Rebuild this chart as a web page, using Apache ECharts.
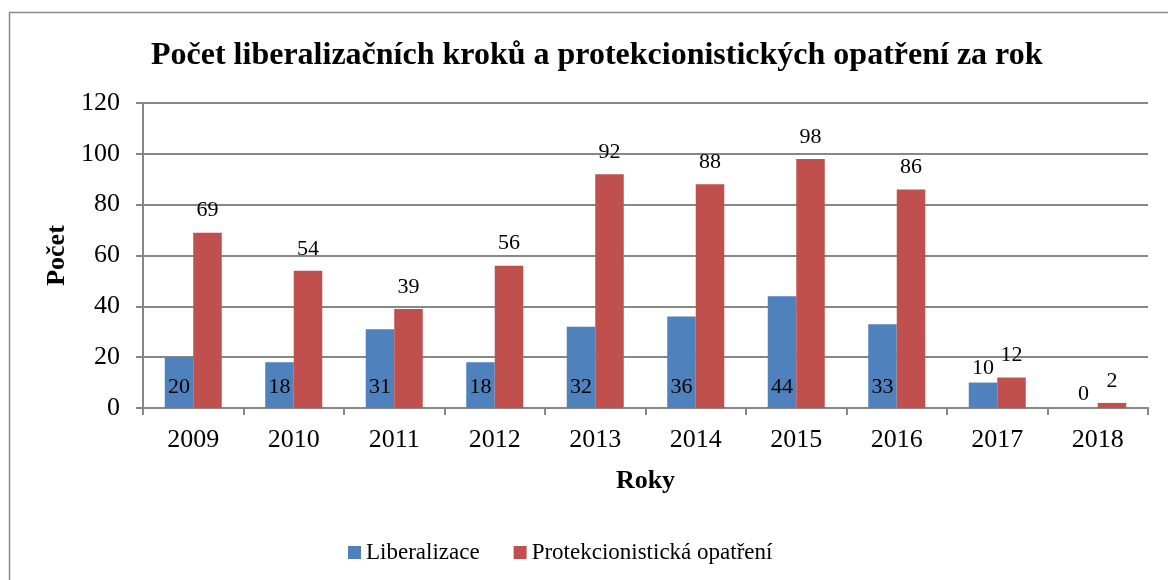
<!DOCTYPE html>
<html>
<head>
<meta charset="utf-8">
<title>Počet liberalizačních kroků</title>
<script src="https://cdn.jsdelivr.net/npm/echarts@6/dist/echarts.min.js"></script>
</head>
<body style="margin:0">
<div id="main" style="width:1168px;height:580px;"></div>
<script type="text/javascript">
// data
var years = ['2009', '2010', '2011', '2012', '2013', '2014', '2015', '2016', '2017', '2018'];
var liberalizace = [20, 18, 31, 18, 32, 36, 44, 33, 10, 0];
var protekcionismus = [69, 54, 39, 56, 92, 88, 98, 86, 12, 2];

var serif = '"Liberation Serif", "Times New Roman", serif';
var gridColor = '#878787';

var myChart = echarts.init(document.getElementById('main'));

// small bars get their label above, others inside at the bottom
var libData = liberalizace.map(function (v) {
	if (v < 15) {
		return { value: v, label: { position: 'top', distance: 3 } };
	}
	return v;
});

var option = {
	backgroundColor: '#fff',
	textStyle: { fontFamily: serif },
	graphic: [{
		type: 'rect',
		shape: { x: 9.5, y: 12.5, width: 1180, height: 600 },
		style: { fill: 'none', stroke: '#8a8a8a', lineWidth: 1.5 },
		silent: true
	}],
	title: {
		text: 'Počet liberalizačních kroků a protekcionistických opatření za rok',
		left: 146,
		top: 35,
		textStyle: { fontFamily: serif, fontWeight: 'bold', fontSize: 32, color: '#000' }
	},
	legend: {
		bottom: 11,
		left: 343,
		icon: 'rect',
		itemWidth: 13,
		itemHeight: 13,
		itemGap: 34,
		textStyle: { fontFamily: serif, fontSize: 23, color: '#000' },
		data: ['Liberalizace', 'Protekcionistická opatření']
	},
	grid: { left: 143, right: 20, top: 103, bottom: 172 },
	xAxis: {
		type: 'category',
		data: years,
		name: 'Roky',
		nameLocation: 'middle',
		nameGap: 60,
		nameTextStyle: { fontFamily: serif, fontWeight: 'bold', fontSize: 26, color: '#000' },
		axisLine: { lineStyle: { color: gridColor, width: 2 } },
		axisTick: { show: true, length: 7, lineStyle: { color: gridColor, width: 2 } },
		axisLabel: { fontFamily: serif, fontSize: 26, color: '#000', margin: 19 }
	},
	yAxis: {
		type: 'value',
		min: 0,
		max: 120,
		interval: 20,
		name: 'Počet',
		nameLocation: 'middle',
		nameGap: 72,
		nameRotate: 90,
		nameTextStyle: { fontFamily: serif, fontWeight: 'bold', fontSize: 26, color: '#000' },
		axisLine: { show: true, lineStyle: { color: gridColor, width: 2 } },
		axisTick: { show: true, length: 7, lineStyle: { color: gridColor, width: 2 } },
		axisLabel: { fontFamily: serif, fontSize: 26, color: '#000', margin: 23 },
		splitLine: { show: true, lineStyle: { color: gridColor, width: 2 } }
	},
	series: [{
		name: 'Liberalizace',
		type: 'bar',
		barWidth: 28.5,
		barGap: '0%',
		itemStyle: { color: '#4F81BD' },
		label: {
			show: true,
			position: 'insideBottom',
			distance: 10,
			fontFamily: serif,
			fontSize: 22,
			color: '#000'
		},
		data: libData
	}, {
		name: 'Protekcionistická opatření',
		type: 'bar',
		barWidth: 28.5,
		barGap: '0%',
		itemStyle: { color: '#C0504D' },
		label: {
			show: true,
			position: 'top',
			distance: 11,
			fontFamily: serif,
			fontSize: 22,
			color: '#000'
		},
		data: protekcionismus
	}]
};

myChart.setOption(option);
</script>
</body>
</html>
